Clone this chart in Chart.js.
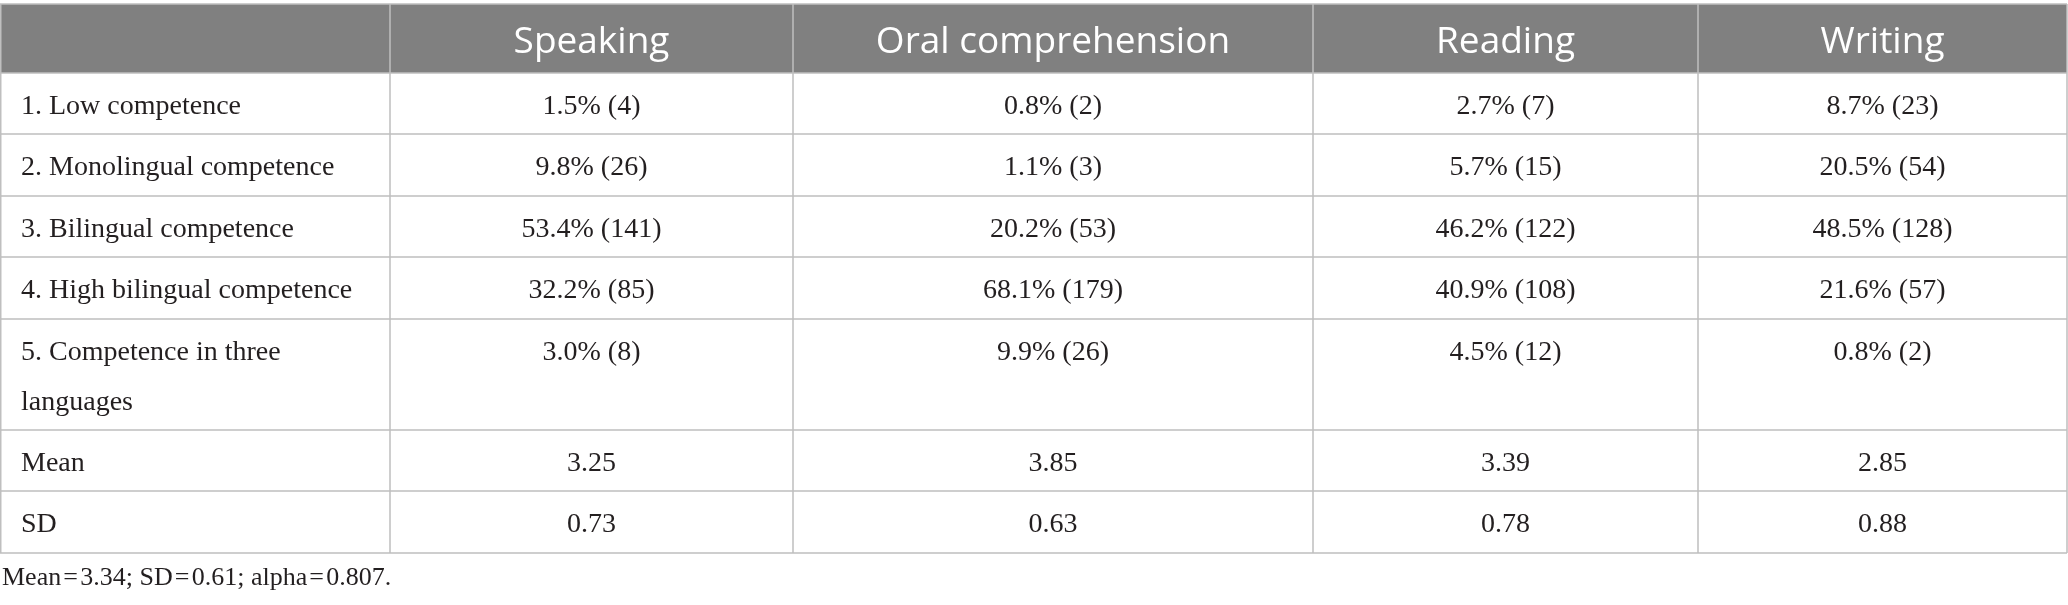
<!DOCTYPE html>
<html>
<head>
<meta charset="utf-8">
<title>Competence table</title>
<script src="https://cdn.jsdelivr.net/npm/chart.js@4.4.1/dist/chart.umd.min.js"></script>
<style>
	html, body { margin: 0; padding: 0; background: #ffffff; }
	#wrap { width: 2068px; height: 605px; }
</style>
</head>
<body>
<div id="wrap"><canvas id="table"></canvas></div>
<script>
// table content
const columns = ['Speaking', 'Oral comprehension', 'Reading', 'Writing'];
const levels = [
	'1. Low competence',
	'2. Monolingual competence',
	'3. Bilingual competence',
	'4. High bilingual competence',
	'5. Competence in three languages'
];
const statLabels = ['Mean', 'SD'];

// percent per level, one array per skill
const speakingPct = [1.5, 9.8, 53.4, 32.2, 3.0];
const oralPct = [0.8, 1.1, 20.2, 68.1, 9.9];
const readingPct = [2.7, 5.7, 46.2, 40.9, 4.5];
const writingPct = [8.7, 20.5, 48.5, 21.6, 0.8];

// counts per level
const speakingN = [4, 26, 141, 85, 8];
const oralN = [2, 3, 53, 179, 26];
const readingN = [7, 15, 122, 108, 12];
const writingN = [23, 54, 128, 57, 2];

const means = [3.25, 3.85, 3.39, 2.85];
const sds = [0.73, 0.63, 0.78, 0.88];

const footnote = 'Mean\u200a=\u200a3.34; SD\u200a=\u200a0.61; alpha\u200a=\u200a0.807.';

// layout (in scale units, same size as the canvas)
const colEdges = [0, 390, 793, 1313, 1698, 2067];
const rowEdges = [4, 73, 134, 196, 257, 319, 430, 491, 553];

const pct = [speakingPct, oralPct, readingPct, writingPct];
const counts = [speakingN, oralN, readingN, writingN];

function cellText(r, c) {
	if (r < levels.length) {
		return pct[c][r].toFixed(1) + '% (' + counts[c][r] + ')';
	}
	if (r === levels.length) return means[c].toFixed(2);
	return sds[c].toFixed(2);
}

function wrapText(ctx, text, maxWidth) {
	const words = text.split(' ');
	const lines = [];
	let line = '';
	words.forEach(function(w) {
		const test = line ? line + ' ' + w : w;
		if (ctx.measureText(test).width > maxWidth && line) {
			lines.push(line);
			line = w;
		} else {
			line = test;
		}
	});
	if (line) lines.push(line);
	return lines;
}

const tablePlugin = {
	id: 'tablePlugin',
	beforeDraw: function(chart) {
		const ctx = chart.ctx;
		ctx.save();
		ctx.fillStyle = '#ffffff';
		ctx.fillRect(0, 0, chart.width, chart.height);
		ctx.restore();
	},
	afterDraw: function(chart) {
		const ctx = chart.ctx;
		const x = chart.scales.x;
		const y = chart.scales.y;
		const px = function(v) { return x.getPixelForValue(v); };
		const py = function(v) { return y.getPixelForValue(v); };
		const left = px(colEdges[0]);
		const right = px(colEdges[colEdges.length - 1]);
		const top = py(rowEdges[0]);
		const bottom = py(rowEdges[rowEdges.length - 1]);

		ctx.save();

		// header band
		ctx.fillStyle = '#808080';
		ctx.fillRect(left, top, right - left, py(rowEdges[1]) - top);

		ctx.font = '37px "Open Sans", sans-serif';
		ctx.fillStyle = '#ffffff';
		ctx.textAlign = 'center';
		ctx.textBaseline = 'alphabetic';
		columns.forEach(function(name, c) {
			const cx = (px(colEdges[c + 1]) + px(colEdges[c + 2])) / 2;
			ctx.fillText(name, cx, py(rowEdges[0]) + 49);
		});

		// body rows
		const rowLabels = levels.concat(statLabels);
		ctx.font = '28px "Liberation Serif", "Times New Roman", serif';
		ctx.fillStyle = '#231f20';
		rowLabels.forEach(function(label, r) {
			const rowTop = py(rowEdges[r + 1]);
			const base = rowTop + 41;
			ctx.textAlign = 'left';
			const lines = wrapText(ctx, label, px(colEdges[1]) - px(colEdges[0]) - 46);
			lines.forEach(function(l, i) {
				ctx.fillText(l, px(colEdges[0]) + 21, base + i * 50);
			});
			ctx.textAlign = 'center';
			columns.forEach(function(name, c) {
				const cx = (px(colEdges[c + 1]) + px(colEdges[c + 2])) / 2;
				ctx.fillText(cellText(r, c), cx, base);
			});
		});

		// grid lines
		ctx.strokeStyle = '#bfbfbf';
		ctx.lineWidth = 1.5;
		ctx.beginPath();
		rowEdges.forEach(function(v) {
			const yy = py(v);
			ctx.moveTo(left, yy);
			ctx.lineTo(right, yy);
		});
		colEdges.forEach(function(v, i) {
			const xx = px(v) + (i === 0 ? 0.75 : 0);
			ctx.moveTo(xx, top);
			ctx.lineTo(xx, bottom);
		});
		ctx.stroke();

		// footnote
		ctx.font = '26px "Liberation Serif", "Times New Roman", serif';
		ctx.fillStyle = '#231f20';
		ctx.textAlign = 'left';
		ctx.fillText(footnote, px(colEdges[0]) + 2, py(585));

		ctx.restore();
	}
};

const config_table = {
	type: 'scatter',
	data: {
		datasets: []
	},
	plugins: [tablePlugin],
	options: {
		responsive: true,
		maintainAspectRatio: false,
		animation: false,
		layout: {
			padding: 0
		},
		plugins: {
			legend: {
				display: false
			},
			title: {
				display: false
			},
			tooltip: {
				enabled: false
			}
		},
		scales: {
			x: {
				type: 'linear',
				min: 0,
				max: 2068,
				display: false
			},
			y: {
				type: 'linear',
				min: 0,
				max: 605,
				reverse: true,
				display: false
			}
		}
	}
};

const table = new Chart(
	document.getElementById('table'),
	config_table
);
</script>
</body>
</html>
